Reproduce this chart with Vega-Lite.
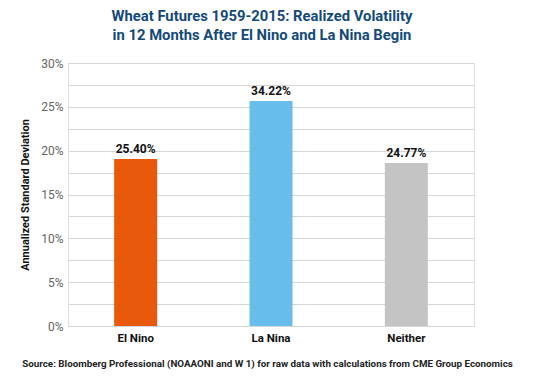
{
  "$schema": "https://vega.github.io/schema/vega-lite/v6.json",
  "autosize": {"type": "none"},
  "padding": {"left": 68, "top": 63, "right": 78, "bottom": 54},
  "width": 406,
  "height": 263,
  "background": "white",
  "title": {
    "text": ["Wheat Futures 1959-2015: Realized Volatility", "in 12 Months After El Nino and La Nina Begin"],
    "font": "Roboto",
    "fontSize": 14.8,
    "fontWeight": "bold",
    "color": "#134a7c",
    "lineHeight": 19,
    "anchor": "middle",
    "dx": -9,
    "offset": 14
  },
  "data": {
    "values": [
      {"category": "El Nino", "bar": 0.1905, "label": "25.40%"},
      {"category": "La Nina", "bar": 0.2567, "label": "34.22%"},
      {"category": "Neither", "bar": 0.1858, "label": "24.77%"}
    ]
  },
  "encoding": {
    "x": {
      "field": "category",
      "type": "nominal",
      "sort": null,
      "scale": {"paddingInner": 0.68, "paddingOuter": 0.34},
      "axis": {
        "title": "Source: Bloomberg Professional (NOAAONI and W 1) for raw data with calculations from CME Group Economics",
        "titleFont": "Roboto",
        "titleFontSize": 9.8,
        "titleFontWeight": "bold",
        "titleColor": "#222222",
        "titlePadding": 15,
        "titleX": 199,
        "labelAngle": 0,
        "labelFont": "Roboto",
        "labelFontSize": 11.5,
        "labelFontWeight": "bold",
        "labelColor": "#111111",
        "labelPadding": 6,
        "ticks": false,
        "domain": false
      }
    },
    "y": {
      "field": "bar",
      "type": "quantitative",
      "scale": {"domain": [0, 0.3], "nice": false},
      "axis": {
        "title": "Annualized Standard Deviation",
        "titleFont": "Roboto",
        "titleFontSize": 11,
        "titleFontWeight": "bold",
        "titleColor": "#111111",
        "titlePadding": 10,
        "values": [0, 0.025, 0.05, 0.075, 0.1, 0.125, 0.15, 0.175, 0.2, 0.225, 0.25, 0.275, 0.3],
        "labelExpr": "round(datum.value * 40) % 2 == 0 ? format(datum.value, '.0%') : ''",
        "labelFont": "Roboto",
        "labelFontSize": 12,
        "labelColor": "#666666",
        "labelPadding": 5,
        "ticks": false,
        "domain": false,
        "grid": true,
        "gridColor": "#d6d6d6",
        "gridWidth": 1.2
      }
    }
  },
  "layer": [
    {
      "mark": {"type": "bar", "size": 43},
      "encoding": {
        "color": {
          "field": "category",
          "type": "nominal",
          "scale": {"domain": ["El Nino", "La Nina", "Neither"], "range": ["#e8590c", "#67bdeb", "#c4c4c4"]},
          "legend": null
        }
      }
    },
    {
      "mark": {"type": "text", "dy": -6, "baseline": "alphabetic", "font": "Roboto", "fontSize": 12, "fontWeight": "bold", "color": "#111111"},
      "encoding": {"text": {"field": "label"}}
    }
  ]
}
